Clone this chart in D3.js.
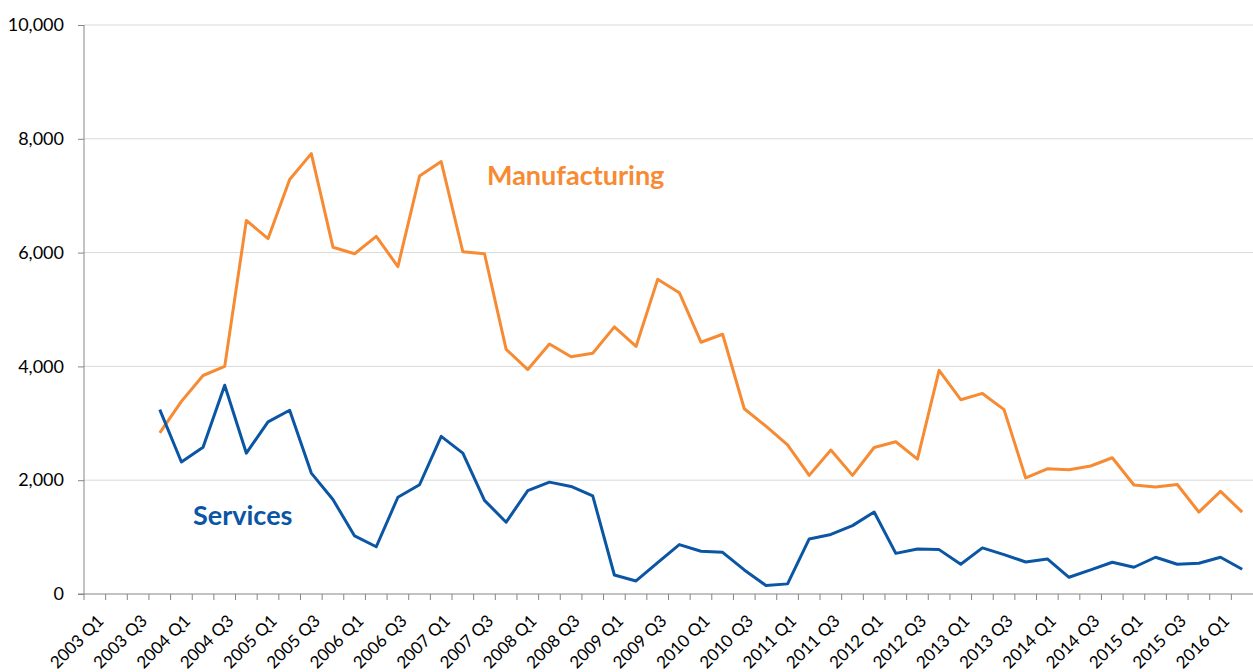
<!DOCTYPE html>
<html>
<head>
<meta charset="utf-8">
<script src="https://cdn.jsdelivr.net/npm/d3@7"></script>
<style>
  body { margin: 0; background: #fff; }
  svg text { font-family: Lato, "Open Sans", sans-serif; }
</style>
</head>
<body>
<svg class="canvas"></svg>
<script>
/*
	FDI line chart: manufacturing vs services, quarterly
*/
var dwidth = 1253;
var dheight = 672;

// quarters 2003 Q1 .. 2016 Q2
var quarters = [];
for (var yr = 2003; yr <= 2016; yr++) {
	for (var q = 1; q <= 4; q++) {
		if (yr == 2016 && q > 2) break;
		quarters.push(yr + " Q" + q);
	}
}
// data starts at 2003 Q4
var firstQuarter = "2003 Q4";
var manufacturing = [2830, 3385, 3840, 4000, 6565, 6245, 7285, 7740, 6095, 5980, 6285, 5755,
	7345, 7600, 6015, 5980, 4300, 3945, 4395, 4170, 4230, 4695, 4350, 5530, 5295, 4425,
	4565, 3255, 2950, 2620, 2085, 2530, 2085, 2575, 2675, 2370, 3930, 3415, 3525, 3240,
	2040, 2200, 2185, 2250, 2395, 1915, 1880, 1925, 1440, 1805, 1440];
var services = [3240, 2320, 2580, 3670, 2475, 3025, 3230, 2125, 1660, 1020, 830, 1700,
	1920, 2770, 2475, 1645, 1262, 1818, 1966, 1890, 1725, 334, 229, 551, 868, 751,
	733, 423, 150, 178, 968, 1046, 1202, 1440, 714, 792, 780, 522, 810, 692,
	563, 616, 294, 423, 558, 470, 646, 523, 540, 646, 435];
var yTicks = [0, 2000, 4000, 6000, 8000, 10000];

var canv = d3.select(".canvas").attr("width", dwidth).attr("height", dheight);

var x0 = 84, x1 = 1253, y0 = 594, y1 = 25;

var sx = d3.scaleBand().domain(quarters).range([x0, x1]);
var sy = d3.scaleLinear().domain([0, 10000]).range([y0, y1]);

// gridlines
canv.append("g").selectAll("line")
	.data(yTicks.filter(function(d) { return d > 0; }))
	.enter().append("line")
	.attr("x1", x0).attr("x2", x1)
	.attr("y1", function(d) { return sy(d); })
	.attr("y2", function(d) { return sy(d); })
	.style("stroke", "#d9d9d9").style("stroke-width", 1);

// y axis
var yAxis = canv.append("g")
	.attr("transform", "translate(" + x0 + ",0)")
	.call(d3.axisLeft(sy).tickValues(yTicks).tickSize(6).tickPadding(14).tickFormat(d3.format(",")));
yAxis.selectAll("text").style("font-size", "18px").style("fill", "#000");
yAxis.selectAll("line, path").style("stroke", "#868686");
yAxis.select(".domain").attr("d", "M0," + y0 + "V" + y1);

// x axis, ticks between categories
var xAxis = canv.append("g").attr("transform", "translate(0," + y0 + ")");
xAxis.append("line").attr("x1", x0 - 6).attr("x2", x1)
	.style("stroke", "#868686");
xAxis.selectAll(".tk")
	.data(quarters)
	.enter().append("line")
	.attr("x1", function(d) { return sx(d); })
	.attr("x2", function(d) { return sx(d); })
	.attr("y1", 0).attr("y2", 6)
	.style("stroke", "#868686");
xAxis.selectAll("text")
	.data(quarters.filter(function(d, i) { return i % 2 == 0; }))
	.enter().append("text")
	.attr("transform", function(d) {
		return "translate(" + (sx(d) + sx.bandwidth() / 2 + 10) + ",28) rotate(-45)";
	})
	.attr("text-anchor", "end")
	.style("font-size", "17px")
	.text(function(d) { return d; });

// lines
var start = quarters.indexOf(firstQuarter);
var line = d3.line()
	.x(function(d, i) { return sx(quarters[start + i]) + sx.bandwidth() / 2; })
	.y(function(d) { return sy(d); });

canv.append("path").datum(manufacturing)
	.attr("d", line)
	.style("fill", "none").style("stroke", "#f68b33").style("stroke-width", 3)
	.style("stroke-linejoin", "round");
canv.append("path").datum(services)
	.attr("d", line)
	.style("fill", "none").style("stroke", "#0b56a4").style("stroke-width", 3)
	.style("stroke-linejoin", "round");

// labels
canv.append("text").attr("x", 487).attr("y", 185)
	.style("font-size", "27px").style("font-weight", "bold").style("fill", "#f68b33")
	.text("Manufacturing");
canv.append("text").attr("x", 193).attr("y", 525)
	.style("font-size", "27px").style("font-weight", "bold").style("fill", "#0b56a4")
	.text("Services");
</script>
</body>
</html>
